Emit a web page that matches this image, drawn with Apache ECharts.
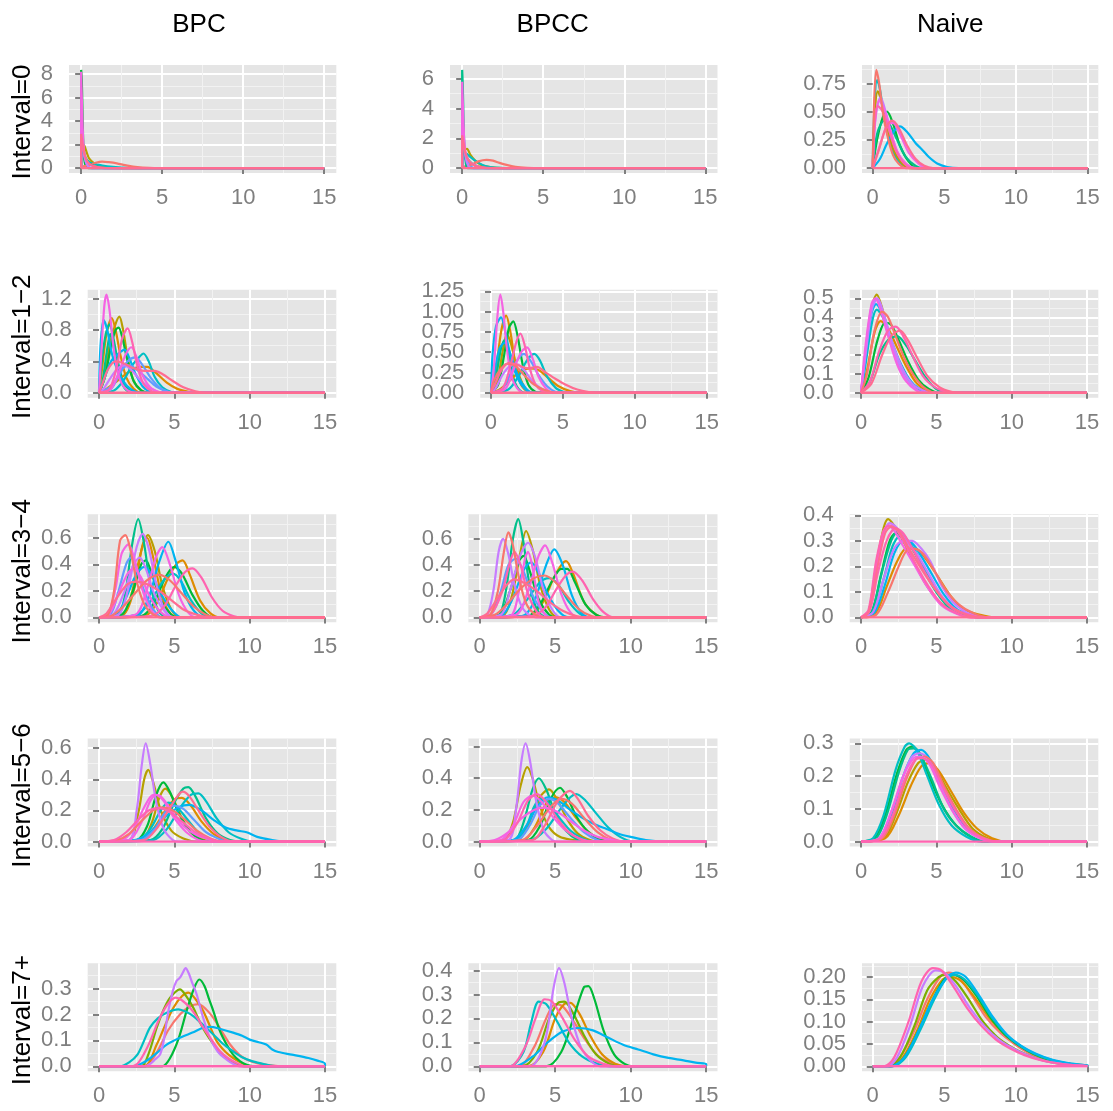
<!DOCTYPE html>
<html>
<head>
<meta charset="utf-8">
<title>Density by interval and method</title>
<script src="https://cdn.jsdelivr.net/npm/echarts@6/dist/echarts.min.js"></script>
<style>
  html, body { margin: 0; padding: 0; background: #ffffff; }
  #chart { width: 1113px; height: 1111px; }
</style>
</head>
<body>
<div id="chart"></div>
<script>
// ---------------------------------------------------------------------------
// Labels
// ---------------------------------------------------------------------------
const METHODS = ['BPC', 'BPCC', 'Naive'];
const INTERVALS = ['Interval=0', 'Interval=1\u22122', 'Interval=3\u22124', 'Interval=5\u22126', 'Interval=7+'];
const X_TICKS = [0, 5, 10, 15];

// y tick values per row (BPC, BPCC, Naive) and decimals used in their labels
const Y_TICKS_I0 = [[0, 2, 4, 6, 8], [0, 2, 4, 6], [0, 0.25, 0.5, 0.75]];
const Y_DIGITS_I0 = [0, 0, 2];
const Y_TICKS_I12 = [[0, 0.4, 0.8, 1.2], [0, 0.25, 0.5, 0.75, 1, 1.25], [0, 0.1, 0.2, 0.3, 0.4, 0.5]];
const Y_DIGITS_I12 = [1, 2, 1];
const Y_TICKS_I34 = [[0, 0.2, 0.4, 0.6], [0, 0.2, 0.4, 0.6], [0, 0.1, 0.2, 0.3, 0.4]];
const Y_DIGITS_I34 = [1, 1, 1];
const Y_TICKS_I56 = [[0, 0.2, 0.4, 0.6], [0, 0.2, 0.4, 0.6], [0, 0.1, 0.2, 0.3]];
const Y_DIGITS_I56 = [1, 1, 1];
const Y_TICKS_I7 = [[0, 0.1, 0.2, 0.3], [0, 0.1, 0.2, 0.3, 0.4], [0, 0.05, 0.1, 0.15, 0.2]];
const Y_DIGITS_I7 = [1, 1, 2];

// ---------------------------------------------------------------------------
// Density curves: each curve is a flat list x0,y0, x1,y1, ...
// The *_GRP arrays give the group (colour) of each curve, in drawing order.
// ---------------------------------------------------------------------------
const BPC_I0 = [
  [0,0, 0,8.35, 0.04,7.5, 0.08,5, 0.15,1.5, 0.25,0.3, 0.4,0.02, 0.6,0, 15,0],
  [0,0, 0,1.2, 0.1,2.0, 0.2,1.9, 0.35,1.3, 0.5,0.8, 0.8,0.4, 1.2,0.15, 1.8,0.03, 2.5,0, 15,0],
  [0,0, 0,0.8, 0.1,1.5, 0.2,1.0, 0.35,0.3, 0.5,0.05, 0.7,0, 15,0],
  [0,0, 0,1.2, 0.1,1.4, 0.25,0.9, 0.5,0.5, 0.8,0.35, 1.2,0.25, 1.8,0.12, 2.5,0.04, 3.5,0, 15,0],
  [0,0, 0,0.1, 0.5,0.25, 0.9,0.45, 1.3,0.55, 1.7,0.5, 2.2,0.4, 2.7,0.25, 3.2,0.12, 3.8,0.04, 4.5,0, 15,0],
  [0,0, 0,2.2, 0.1,1.8, 0.3,0.8, 0.6,0.3, 1,0.1, 1.5,0, 15,0],
  [0,0, 0,4, 0.08,3, 0.2,1, 0.4,0.2, 0.6,0, 15,0],
  [0,0, 0,8.2, 0.06,5, 0.12,2.5, 0.2,1.2, 0.35,0.6, 0.6,0.25, 1,0.08, 1.5,0, 15,0],
  [0,0, 0,2.9, 0.1,2.0, 0.2,1.2, 0.4,0.5, 0.7,0.2, 1.2,0.05, 2,0, 15,0]
];
const BPC_I0_GRP = [4, 2, 8, 6, 0, 5, 9, 10, 12];

const BPCC_I0 = [
  [0,0, 0,1.5, 0.1,1.3, 0.3,0.7, 0.6,0.3, 1,0.1, 1.5,0, 15,0],
  [0,0, 0,0.6, 0.15,1.2, 0.3,1.3, 0.5,0.9, 0.8,0.5, 1.2,0.2, 1.8,0.05, 2.5,0, 15,0],
  [0,0, 0,0.2, 0.15,0.8, 0.3,0.6, 0.5,0.2, 0.7,0, 15,0],
  [0,0, 0,0.9, 0.2,1.0, 0.5,0.75, 0.8,0.5, 1.1,0.3, 1.5,0.12, 2,0.03, 2.8,0, 15,0],
  [0,0, 0,0.05, 0.5,0.2, 1,0.45, 1.5,0.55, 1.9,0.5, 2.3,0.35, 2.8,0.2, 3.3,0.08, 4,0.02, 4.8,0, 15,0],
  [0,0, 0,6.6, 0.04,5.5, 0.08,3.5, 0.14,1.3, 0.22,0.4, 0.35,0, 15,0],
  [0,0, 0,3.5, 0.08,2.5, 0.2,0.8, 0.4,0.1, 0.6,0, 15,0],
  [0,0, 0,5.8, 0.06,3.8, 0.12,2, 0.2,1.1, 0.35,0.6, 0.6,0.3, 1,0.1, 1.5,0, 15,0],
  [0,0, 0,2.2, 0.1,1.6, 0.2,1.0, 0.4,0.5, 0.7,0.2, 1.2,0.05, 2,0, 15,0]
];
const BPCC_I0_GRP = [4, 2, 8, 6, 0, 5, 9, 10, 12];

const NAIVE_I0 = [
  [0,0, 0.1,0.5, 0.3,0.78, 0.5,0.7, 0.8,0.45, 1.2,0.22, 1.7,0.08, 2.2,0.02, 2.7,0, 15,0],
  [0,0, 0.15,0.5, 0.35,0.68, 0.6,0.6, 0.95,0.4, 1.4,0.18, 2,0.05, 2.6,0, 15,0],
  [0,0, 0.3,0.25, 0.7,0.45, 1.0,0.5, 1.4,0.4, 1.9,0.2, 2.5,0.06, 3.1,0, 15,0],
  [0,0, 0.3,0.3, 0.8,0.42, 1.2,0.38, 1.7,0.25, 2.3,0.1, 3,0.02, 3.5,0, 15,0],
  [0,0, 0.5,0.08, 1.0,0.22, 1.5,0.33, 1.9,0.37, 2.4,0.32, 3,0.22, 3.4,0.17, 3.9,0.1, 4.5,0.04, 5.2,0.01, 6,0, 15,0],
  [0,0, 0.2,0.45, 0.55,0.63, 0.9,0.5, 1.3,0.3, 1.8,0.12, 2.4,0.03, 3,0, 15,0],
  [0,0, 0.15,0.4, 0.45,0.6, 0.8,0.52, 1.2,0.35, 1.7,0.15, 2.3,0.04, 2.9,0, 15,0],
  [0,0, 0.5,0.2, 1.0,0.38, 1.4,0.4, 1.9,0.3, 2.5,0.14, 3.2,0.04, 3.8,0, 15,0],
  [0,0, 0.1,0.35, 0.35,0.55, 0.7,0.5, 1.1,0.35, 1.6,0.16, 2.2,0.04, 2.8,0, 15,0],
  [0,0, 0.1,0.6, 0.25,0.87, 0.45,0.75, 0.7,0.5, 1,0.3, 1.4,0.12, 1.8,0.04, 2.3,0, 15,0],
  [0,0, 0.4,0.15, 0.9,0.35, 1.35,0.42, 1.8,0.36, 2.4,0.2, 3,0.08, 3.6,0.02, 4.2,0, 15,0]
];
const NAIVE_I0_GRP = [6, 2, 4, 5, 7, 9, 10, 10, 11, 0, 12];

const BPC_I12 = [
  [0,0, 0.3,0.15, 0.7,0.6, 1.05,0.85, 1.35,0.97, 1.6,0.8, 1.9,0.45, 2.3,0.15, 2.8,0.03, 3.3,0, 15,0],
  [0,0, 0.2,0.3, 0.5,0.75, 0.85,0.95, 1.1,0.8, 1.4,0.5, 1.8,0.2, 2.3,0.05, 2.8,0, 15,0],
  [0,0, 0.4,0.2, 0.8,0.6, 1.1,0.8, 1.3,0.83, 1.55,0.7, 1.9,0.4, 2.3,0.15, 2.8,0.03, 3.3,0, 15,0],
  [0,0, 0.15,0.35, 0.45,0.75, 0.7,0.87, 0.95,0.7, 1.25,0.4, 1.6,0.15, 2,0.04, 2.5,0, 15,0],
  [0,0, 0.2,0.1, 0.5,0.5, 0.75,0.75, 1.0,0.55, 1.3,0.25, 1.7,0.06, 2.2,0, 15,0],
  [0,0, 0.5,0.05, 1.2,0.15, 2,0.27, 2.7,0.33, 3.2,0.33, 3.8,0.25, 4.5,0.13, 5.2,0.05, 6,0.01, 6.6,0, 15,0],
  [0,0, 1,0.03, 1.6,0.15, 2.2,0.35, 2.65,0.45, 2.95,0.5, 3.3,0.4, 3.7,0.2, 4.2,0.07, 4.8,0.01, 5.3,0, 15,0],
  [0,0, 0.3,0.15, 0.8,0.4, 1.3,0.5, 1.7,0.55, 2.0,0.45, 2.4,0.25, 2.9,0.08, 3.4,0.01, 3.8,0, 15,0],
  [0,0, 0.1,0.6, 0.3,0.93, 0.55,0.8, 0.85,0.5, 1.2,0.3, 1.6,0.15, 2.1,0.05, 2.7,0, 15,0],
  [0,0, 0.8,0.05, 1.4,0.25, 1.9,0.4, 2.4,0.45, 2.9,0.35, 3.4,0.2, 4,0.07, 4.6,0.01, 5.2,0, 15,0],
  [0,0, 0.9,0.1, 1.5,0.3, 2,0.35, 2.6,0.28, 3.2,0.18, 3.8,0.08, 4.5,0.02, 5,0, 15,0],
  [0,0, 0.3,0.05, 0.8,0.2, 1.3,0.32, 1.7,0.35, 2.2,0.28, 2.8,0.15, 3.5,0.05, 4.2,0, 15,0],
  [0,0, 0.8,0.05, 1.4,0.3, 1.8,0.5, 2.15,0.58, 2.5,0.45, 2.9,0.22, 3.4,0.07, 4,0.01, 4.5,0, 15,0],
  [0,0, 0.15,0.5, 0.35,1.1, 0.5,1.25, 0.7,1.05, 0.95,0.6, 1.2,0.3, 1.5,0.12, 1.9,0.03, 2.4,0, 15,0],
  [0,0, 0.7,0.05, 1.2,0.35, 1.55,0.7, 1.9,0.82, 2.2,0.65, 2.6,0.3, 3,0.1, 3.5,0.02, 4,0, 15,0],
  [0,0, 0.2,0.1, 0.6,0.3, 1.1,0.4, 1.6,0.38, 2.2,0.32, 3,0.28, 3.7,0.28, 4.2,0.24, 4.9,0.15, 5.6,0.07, 6.4,0.02, 7.2,0, 15,0]
];
const BPC_I12_GRP = [2, 1, 4, 5, 5, 1, 6, 7, 7, 8, 8, 9, 10, 10, 11, 12];

const BPCC_I12 = [
  [0,0, 0.4,0.1, 0.8,0.5, 1.1,0.72, 1.4,0.6, 1.8,0.3, 2.3,0.08, 2.8,0, 15,0],
  [0,0, 0.3,0.2, 0.7,0.75, 1.05,0.95, 1.35,0.75, 1.7,0.35, 2.1,0.1, 2.6,0.01, 3,0, 15,0],
  [0,0, 0.5,0.1, 0.9,0.45, 1.25,0.8, 1.55,0.88, 1.85,0.7, 2.2,0.35, 2.6,0.1, 3.1,0.01, 3.5,0, 15,0],
  [0,0, 0.3,0.15, 0.7,0.55, 0.95,0.65, 1.2,0.5, 1.5,0.22, 1.9,0.05, 2.4,0, 15,0],
  [0,0, 0.6,0.04, 1.3,0.15, 2,0.26, 2.7,0.3, 3.3,0.28, 4,0.18, 4.7,0.08, 5.5,0.02, 6.2,0, 15,0],
  [0,0, 1.2,0.04, 1.9,0.2, 2.5,0.4, 3.0,0.48, 3.4,0.4, 3.9,0.2, 4.5,0.06, 5.1,0.01, 5.6,0, 15,0],
  [0,0, 0.1,0.45, 0.35,0.82, 0.7,0.93, 1.0,0.75, 1.35,0.45, 1.8,0.2, 2.3,0.06, 2.9,0, 15,0],
  [0,0, 0.2,0.2, 0.6,0.55, 1.0,0.62, 1.4,0.45, 1.9,0.2, 2.4,0.06, 2.9,0, 15,0],
  [0,0, 0.8,0.05, 1.4,0.25, 1.9,0.42, 2.3,0.48, 2.8,0.38, 3.3,0.22, 3.9,0.08, 4.5,0.01, 5,0, 15,0],
  [0,0, 0.3,0.05, 0.8,0.22, 1.3,0.33, 1.8,0.35, 2.3,0.28, 2.9,0.14, 3.6,0.04, 4.3,0, 15,0],
  [0,0, 1.0,0.05, 1.6,0.3, 2.1,0.5, 2.5,0.56, 2.9,0.42, 3.3,0.2, 3.8,0.06, 4.4,0, 15,0],
  [0,0, 0.2,0.3, 0.45,0.95, 0.65,1.21, 0.85,1.0, 1.1,0.55, 1.4,0.22, 1.8,0.06, 2.3,0, 15,0],
  [0,0, 0.8,0.05, 1.3,0.3, 1.75,0.62, 2.05,0.73, 2.35,0.58, 2.7,0.3, 3.1,0.1, 3.6,0.02, 4.1,0, 15,0],
  [0,0, 0.2,0.15, 0.7,0.3, 1.2,0.36, 1.7,0.33, 2.3,0.22, 3,0.1, 3.8,0.03, 4.5,0, 15,0],
  [0,0, 0.3,0.12, 0.8,0.3, 1.3,0.37, 1.9,0.34, 2.6,0.3, 3.2,0.32, 3.8,0.25, 4.5,0.17, 5.2,0.1, 6,0.04, 6.8,0.01, 7.5,0, 15,0]
];
const BPCC_I12_GRP = [2, 1, 4, 5, 1, 6, 7, 7, 8, 9, 10, 10, 11, 0, 12];

const NAIVE_I12 = [
  [0,0, 0.3,0.2, 0.7,0.45, 1.05,0.52, 1.4,0.45, 1.9,0.3, 2.5,0.16, 3.1,0.07, 3.8,0.02, 4.5,0, 15,0],
  [0,0, 0.4,0.12, 0.9,0.32, 1.3,0.38, 1.8,0.34, 2.4,0.24, 3,0.14, 3.7,0.05, 4.4,0.01, 5,0, 15,0],
  [0,0, 0.5,0.08, 1.1,0.28, 1.6,0.37, 2.0,0.36, 2.5,0.28, 3.1,0.17, 3.8,0.07, 4.5,0.02, 5.2,0, 15,0],
  [0,0, 0.6,0.06, 1.2,0.2, 1.8,0.28, 2.4,0.3, 3,0.25, 3.6,0.17, 4.3,0.08, 5,0.02, 5.8,0, 15,0],
  [0,0, 0.3,0.15, 0.75,0.38, 1.05,0.44, 1.45,0.4, 2,0.28, 2.6,0.16, 3.3,0.06, 4,0.01, 4.6,0, 15,0],
  [0,0, 0.3,0.18, 0.7,0.42, 1.0,0.47, 1.4,0.42, 1.9,0.3, 2.5,0.17, 3.2,0.07, 3.9,0.02, 4.6,0, 15,0],
  [0,0, 0.3,0.22, 0.7,0.46, 1.0,0.5, 1.4,0.44, 1.9,0.3, 2.5,0.15, 3.1,0.06, 3.8,0.01, 4.4,0, 15,0],
  [0,0, 0.3,0.2, 0.75,0.45, 1.1,0.5, 1.5,0.42, 2.1,0.26, 2.8,0.12, 3.5,0.04, 4.2,0.01, 4.8,0, 15,0],
  [0,0, 0.3,0.25, 0.7,0.47, 0.95,0.5, 1.3,0.44, 1.8,0.3, 2.4,0.15, 3,0.06, 3.7,0.01, 4.3,0, 15,0],
  [0,0, 0.4,0.1, 0.9,0.33, 1.4,0.43, 1.8,0.4, 2.3,0.3, 2.9,0.18, 3.6,0.08, 4.3,0.02, 5,0, 15,0],
  [0,0, 0.6,0.06, 1.2,0.22, 1.8,0.33, 2.3,0.35, 2.8,0.3, 3.4,0.2, 4.1,0.09, 4.9,0.03, 5.7,0.005, 6.3,0, 15,0],
  [0,0, 0.7,0.05, 1.4,0.2, 2,0.3, 2.6,0.33, 3.1,0.28, 3.7,0.19, 4.4,0.09, 5.2,0.03, 6,0.005, 6.8,0, 15,0]
];
const NAIVE_I12_GRP = [2, 1, 4, 5, 6, 7, 9, 9, 10, 0, 11, 12];

const BPC_I34 = [
  [0,0, 1.5,0.01, 2.1,0.15, 2.8,0.5, 3.25,0.62, 3.7,0.5, 4.2,0.24, 4.8,0.06, 5.4,0, 15,0],
  [0,0, 1.6,0.02, 2.3,0.2, 2.9,0.55, 3.2,0.6, 3.6,0.45, 4.2,0.15, 4.8,0.02, 5.3,0, 15,0],
  [0,0, 3,0.01, 3.8,0.1, 4.6,0.3, 5.2,0.41, 5.55,0.43, 6,0.33, 6.7,0.13, 7.4,0.03, 8,0, 15,0],
  [0,0, 2.8,0.01, 3.6,0.1, 4.4,0.3, 5.0,0.38, 5.5,0.33, 6.2,0.17, 6.9,0.05, 7.6,0, 15,0],
  [0,0, 1.5,0.02, 2.2,0.18, 2.8,0.4, 3.1,0.43, 3.5,0.33, 4.1,0.13, 4.8,0.02, 5.3,0, 15,0],
  [0,0, 1.2,0.01, 1.7,0.15, 2.2,0.55, 2.6,0.74, 3.0,0.55, 3.4,0.25, 3.9,0.06, 4.5,0, 15,0],
  [0,0, 2.5,0.02, 3.4,0.12, 4.3,0.28, 4.9,0.33, 5.4,0.28, 6.1,0.13, 6.8,0.03, 7.4,0, 15,0],
  [0,0, 2.5,0.01, 3.3,0.15, 4.0,0.42, 4.6,0.57, 5.1,0.42, 5.7,0.18, 6.3,0.05, 7,0, 15,0],
  [0,0, 1.2,0.03, 1.8,0.15, 2.5,0.33, 3.0,0.38, 3.5,0.32, 4.1,0.18, 4.8,0.06, 5.5,0, 15,0],
  [0,0, 0.8,0.03, 1.3,0.2, 1.8,0.4, 2.1,0.45, 2.5,0.37, 3,0.2, 3.6,0.06, 4.2,0, 15,0],
  [0,0, 1.3,0.02, 1.9,0.2, 2.5,0.53, 2.9,0.63, 3.3,0.52, 3.8,0.25, 4.3,0.07, 4.9,0, 15,0],
  [0,0, 1.0,0.03, 1.7,0.2, 2.3,0.4, 2.7,0.45, 3.1,0.37, 3.7,0.17, 4.4,0.04, 5,0, 15,0],
  [0,0, 0.6,0.02, 1.1,0.22, 1.5,0.48, 1.95,0.55, 2.4,0.42, 2.9,0.2, 3.5,0.05, 4.1,0, 15,0],
  [0,0, 2.4,0.02, 3.2,0.22, 3.8,0.46, 4.2,0.53, 4.7,0.4, 5.3,0.17, 5.9,0.04, 6.5,0, 15,0],
  [0,0, 0.7,0.03, 1.3,0.18, 1.9,0.33, 2.3,0.37, 2.8,0.3, 3.4,0.15, 4.1,0.04, 4.8,0, 15,0],
  [0,0, 3.4,0.01, 4.3,0.08, 5.1,0.24, 5.7,0.34, 6.2,0.37, 6.8,0.3, 7.5,0.15, 8.2,0.05, 8.9,0.01, 9.5,0, 15,0],
  [0,0, 0.6,0.02, 1.0,0.2, 1.4,0.58, 1.75,0.62, 2.1,0.5, 2.5,0.27, 3,0.1, 3.6,0.02, 4.2,0, 15,0],
  [0,0, 0.8,0.01, 1.5,0.07, 2.3,0.17, 3.2,0.28, 4.0,0.32, 4.7,0.28, 5.5,0.18, 6.3,0.08, 7.1,0.02, 7.8,0, 15,0],
  [0,0, 0.5,0.03, 1.2,0.15, 1.9,0.25, 2.5,0.27, 3.2,0.25, 4,0.2, 4.8,0.13, 5.6,0.06, 6.5,0.02, 7.3,0, 15,0]
];
const BPC_I34_GRP = [2, 1, 1, 4, 4, 5, 6, 7, 7, 8, 9, 9, 10, 10, 10, 11, 0, 0, 12];

const BPCC_I34 = [
  [0,0, 1.5,0.01, 2.1,0.15, 2.7,0.5, 3.07,0.66, 3.5,0.52, 4,0.25, 4.6,0.06, 5.2,0, 15,0],
  [0,0, 3.2,0.01, 4.1,0.1, 4.9,0.3, 5.4,0.4, 5.72,0.43, 6.2,0.33, 6.9,0.12, 7.6,0.03, 8.2,0, 15,0],
  [0,0, 3.2,0.01, 4,0.1, 4.8,0.28, 5.4,0.37, 5.8,0.37, 6.3,0.27, 7,0.1, 7.7,0.02, 8.3,0, 15,0],
  [0,0, 1.3,0.02, 2,0.2, 2.6,0.43, 2.9,0.47, 3.3,0.36, 3.9,0.14, 4.6,0.02, 5.1,0, 15,0],
  [0,0, 1.2,0.01, 1.7,0.18, 2.2,0.6, 2.55,0.75, 2.9,0.57, 3.3,0.25, 3.8,0.06, 4.4,0, 15,0],
  [0,0, 2.2,0.02, 3.1,0.13, 4,0.27, 4.6,0.3, 5.2,0.25, 5.9,0.12, 6.6,0.03, 7.2,0, 15,0],
  [0,0, 2.8,0.01, 3.6,0.12, 4.4,0.4, 4.94,0.52, 5.5,0.4, 6.1,0.17, 6.7,0.04, 7.3,0, 15,0],
  [0,0, 1.5,0.02, 2.2,0.15, 2.9,0.36, 3.4,0.42, 3.9,0.34, 4.5,0.18, 5.2,0.05, 5.9,0, 15,0],
  [0,0, 0.8,0.03, 1.4,0.2, 1.9,0.4, 2.4,0.45, 2.9,0.35, 3.5,0.17, 4.2,0.04, 4.8,0, 15,0],
  [0,0, 0.5,0.02, 0.9,0.2, 1.25,0.5, 1.55,0.6, 1.9,0.48, 2.3,0.25, 2.8,0.08, 3.4,0.01, 3.9,0, 15,0],
  [0,0, 1.4,0.02, 2.0,0.2, 2.7,0.48, 3.2,0.57, 3.7,0.45, 4.2,0.22, 4.8,0.06, 5.4,0, 15,0],
  [0,0, 2.4,0.02, 3.2,0.2, 3.9,0.47, 4.33,0.55, 4.8,0.42, 5.4,0.18, 6,0.04, 6.6,0, 15,0],
  [0,0, 2,0.01, 2.6,0.2, 3.0,0.45, 3.2,0.5, 3.5,0.38, 3.9,0.12, 4.4,0.01, 4.8,0, 15,0],
  [0,0, 3.4,0.01, 4.3,0.07, 5.1,0.22, 5.7,0.32, 6.16,0.35, 6.8,0.28, 7.5,0.14, 8.2,0.04, 8.9,0, 15,0],
  [0,0, 0.8,0.03, 1.5,0.2, 2.0,0.42, 2.3,0.5, 2.7,0.4, 3.2,0.18, 3.8,0.04, 4.4,0, 15,0],
  [0,0, 0.7,0.02, 1.2,0.2, 1.6,0.5, 1.9,0.65, 2.2,0.55, 2.6,0.3, 3.1,0.1, 3.7,0.02, 4.3,0, 15,0],
  [0,0, 1,0.02, 1.8,0.1, 2.7,0.22, 3.6,0.3, 4.3,0.32, 5,0.27, 5.8,0.16, 6.6,0.06, 7.4,0.01, 8,0, 15,0],
  [0,0, 0.5,0.03, 1.2,0.15, 1.8,0.25, 2.3,0.29, 3,0.26, 3.8,0.2, 4.6,0.12, 5.5,0.05, 6.4,0.01, 7.2,0, 15,0]
];
const BPCC_I34_GRP = [2, 1, 4, 4, 5, 6, 7, 7, 8, 9, 9, 10, 10, 11, 11, 0, 0, 12];

const NAIVE_I34 = [
  [0,0, 0.5,0.02, 1.0,0.2, 1.5,0.35, 1.8,0.385, 2.2,0.36, 2.8,0.3, 3.5,0.22, 4.3,0.13, 5.2,0.06, 6.2,0.02, 7.2,0.005, 8,0, 15,0],
  [0,0, 1.0,0.02, 1.7,0.12, 2.4,0.22, 3.0,0.27, 3.6,0.27, 4.3,0.23, 5.1,0.16, 6,0.08, 6.9,0.03, 7.9,0.01, 8.8,0, 15,0],
  [0,0, 0.7,0.02, 1.3,0.16, 1.9,0.3, 2.3,0.33, 2.8,0.32, 3.4,0.27, 4.1,0.2, 4.9,0.12, 5.8,0.05, 6.8,0.015, 7.8,0, 15,0],
  [0,0, 0.7,0.02, 1.4,0.18, 2.0,0.3, 2.5,0.34, 3,0.31, 3.6,0.25, 4.3,0.17, 5.1,0.09, 6,0.03, 7,0.01, 7.8,0, 15,0],
  [0,0, 0.8,0.02, 1.5,0.15, 2.1,0.28, 2.6,0.32, 3.1,0.3, 3.7,0.25, 4.4,0.17, 5.2,0.09, 6.1,0.03, 7.1,0.01, 8,0, 15,0],
  [0,0, 0.9,0.02, 1.6,0.13, 2.2,0.25, 2.8,0.3, 3.4,0.29, 4.0,0.24, 4.7,0.17, 5.5,0.09, 6.4,0.03, 7.4,0.01, 8.3,0, 15,0],
  [0,0, 0.5,0.02, 1.0,0.18, 1.5,0.33, 1.9,0.37, 2.4,0.35, 3.0,0.3, 3.8,0.24, 4.6,0.16, 5.4,0.08, 6.3,0.03, 7.3,0.01, 8.2,0, 15,0],
  [0,0, 0.8,0.02, 1.5,0.15, 2.2,0.27, 2.8,0.3, 3.4,0.3, 4.0,0.27, 4.6,0.22, 5.3,0.13, 6.1,0.06, 7,0.02, 8,0, 15,0],
  [0,0, 0.5,0.02, 1.0,0.2, 1.45,0.33, 1.8,0.36, 2.2,0.34, 2.8,0.28, 3.6,0.2, 4.4,0.12, 5.3,0.05, 6.3,0.015, 7.3,0, 15,0],
  [0,0, 1.0,0.01, 1.8,0.1, 2.5,0.2, 3.0,0.26, 3.5,0.27, 4.1,0.25, 4.8,0.19, 5.6,0.11, 6.5,0.05, 7.5,0.015, 8.5,0, 15,0],
  [0,0, 0.5,0.03, 1.0,0.22, 1.5,0.34, 1.9,0.36, 2.4,0.34, 3,0.28, 3.7,0.2, 4.5,0.12, 5.4,0.05, 6.4,0.015, 7.4,0, 15,0],
  [0,0, 0.6,0.03, 1.1,0.17, 1.7,0.3, 2.3,0.35, 2.8,0.33, 3.5,0.26, 4.3,0.17, 5.2,0.09, 6.2,0.03, 7.2,0.01, 8,0, 15,0],
  [0,0, 0.5,0.02, 1.1,0.2, 1.6,0.33, 2.0,0.355, 2.5,0.34, 3.1,0.28, 3.9,0.2, 4.8,0.12, 5.8,0.05, 6.8,0.015, 7.8,0, 15,0]
];
const NAIVE_I34_GRP = [2, 1, 4, 5, 6, 7, 9, 9, 10, 0, 11, 11, 12];

const BPC_I56 = [
  [0,0, 2,0.01, 2.6,0.18, 3.0,0.4, 3.27,0.46, 3.6,0.38, 4.1,0.2, 4.8,0.07, 5.6,0.02, 6.5,0, 15,0],
  [0,0, 2.8,0.01, 3.5,0.12, 4.0,0.28, 4.4,0.34, 4.9,0.28, 5.5,0.15, 6.2,0.05, 7,0.01, 7.6,0, 15,0],
  [0,0, 2.8,0.01, 3.6,0.08, 4.4,0.2, 5.0,0.27, 5.5,0.28, 6.1,0.23, 6.8,0.13, 7.6,0.05, 8.4,0.01, 9,0, 15,0],
  [0,0, 2.5,0.01, 3.2,0.1, 3.8,0.3, 4.27,0.38, 4.7,0.32, 5.3,0.18, 6,0.07, 6.8,0.01, 7.4,0, 15,0],
  [0,0, 3.4,0.01, 4.2,0.08, 5.0,0.25, 5.6,0.34, 5.93,0.35, 6.4,0.29, 7.1,0.15, 7.9,0.05, 8.7,0.01, 9.4,0, 15,0],
  [0,0, 3.6,0.01, 4.5,0.08, 5.4,0.22, 6.1,0.3, 6.6,0.31, 7.1,0.26, 7.8,0.15, 8.6,0.06, 9.4,0.02, 10.2,0, 15,0],
  [0,0, 2.6,0.01, 3.4,0.08, 4.1,0.2, 4.6,0.25, 5.1,0.23, 5.8,0.15, 6.6,0.06, 7.4,0.01, 8,0, 15,0],
  [0,0, 2.4,0.01, 3.4,0.06, 4.4,0.16, 5.3,0.22, 6.0,0.235, 6.8,0.2, 7.6,0.14, 8.4,0.09, 9.2,0.07, 9.8,0.06, 10.5,0.03, 11.5,0.01, 12.5,0, 15,0],
  [0,0, 2.8,0.01, 3.7,0.08, 4.4,0.19, 5,0.23, 5.6,0.21, 6.3,0.14, 7.1,0.06, 7.9,0.02, 8.6,0, 15,0],
  [0,0, 2.0,0.01, 2.5,0.2, 2.85,0.5, 3.1,0.63, 3.4,0.5, 3.8,0.25, 4.3,0.08, 4.9,0.01, 5.3,0, 15,0],
  [0,0, 1.5,0.01, 2.3,0.08, 3.0,0.22, 3.6,0.3, 4.1,0.29, 4.8,0.2, 5.6,0.1, 6.5,0.04, 7.5,0.01, 8.3,0, 15,0],
  [0,0, 2.0,0.01, 2.8,0.12, 3.4,0.26, 3.8,0.3, 4.3,0.26, 5,0.15, 5.8,0.06, 6.6,0.01, 7.2,0, 15,0],
  [0,0, 1.2,0.01, 2,0.05, 2.8,0.13, 3.6,0.2, 4.2,0.22, 4.9,0.2, 5.7,0.14, 6.5,0.07, 7.4,0.02, 8.2,0, 15,0],
  [0,0, 3,0.01, 3.8,0.08, 4.6,0.2, 5.2,0.29, 5.55,0.32, 6,0.29, 6.6,0.2, 7.3,0.1, 8.1,0.03, 9,0, 15,0],
  [0,0, 1.0,0.01, 1.8,0.06, 2.6,0.14, 3.3,0.2, 4.0,0.215, 4.7,0.19, 5.5,0.13, 6.4,0.06, 7.3,0.02, 8.1,0, 15,0]
];
const BPC_I56_GRP = [2, 2, 1, 4, 5, 6, 6, 7, 8, 9, 10, 10, 0, 12, 11];

const BPCC_I56 = [
  [0,0, 1.6,0.01, 2.2,0.12, 2.7,0.35, 3.15,0.47, 3.5,0.4, 4.0,0.22, 4.6,0.09, 5.3,0.03, 6.2,0.01, 7,0, 15,0],
  [0,0, 2.5,0.01, 3.2,0.1, 3.9,0.27, 4.59,0.33, 5.1,0.27, 5.8,0.14, 6.5,0.05, 7.3,0.01, 8,0, 15,0],
  [0,0, 2.9,0.01, 3.7,0.1, 4.4,0.24, 5,0.28, 5.6,0.25, 6.3,0.16, 7.1,0.07, 7.9,0.02, 8.6,0, 15,0],
  [0,0, 3.2,0.01, 4.0,0.1, 4.7,0.27, 5.32,0.34, 5.8,0.28, 6.4,0.16, 7.2,0.06, 8,0.01, 8.7,0, 15,0],
  [0,0, 2.3,0.01, 2.9,0.12, 3.5,0.33, 3.92,0.4, 4.4,0.33, 5,0.18, 5.7,0.07, 6.5,0.01, 7.1,0, 15,0],
  [0,0, 3.4,0.01, 4.4,0.08, 5.3,0.2, 6,0.28, 6.4,0.3, 7,0.26, 7.7,0.18, 8.5,0.09, 9.3,0.03, 10.2,0, 15,0],
  [0,0, 2.4,0.01, 3.1,0.1, 3.6,0.22, 4.0,0.27, 4.5,0.25, 5.2,0.16, 6,0.07, 6.8,0.02, 7.5,0, 15,0],
  [0,0, 2.2,0.01, 3.1,0.1, 3.8,0.22, 4.5,0.28, 5.2,0.26, 6,0.2, 6.8,0.15, 7.6,0.11, 8.4,0.08, 9.2,0.05, 10,0.03, 11,0.01, 12.5,0, 15,0],
  [0,0, 2.5,0.01, 3.3,0.1, 4,0.23, 4.6,0.27, 5.2,0.24, 6,0.15, 6.9,0.06, 7.8,0.01, 8.5,0, 15,0],
  [0,0, 1.9,0.01, 2.4,0.2, 2.75,0.5, 3.04,0.62, 3.35,0.5, 3.75,0.25, 4.25,0.07, 4.8,0.01, 5.2,0, 15,0],
  [0,0, 1.4,0.01, 2.2,0.1, 2.9,0.25, 3.5,0.29, 4.1,0.25, 4.9,0.15, 5.7,0.07, 6.6,0.02, 7.5,0, 15,0],
  [0,0, 2.8,0.01, 3.8,0.1, 4.7,0.22, 5.4,0.27, 6.1,0.24, 6.9,0.15, 7.8,0.06, 8.7,0.01, 9.4,0, 15,0],
  [0,0, 3.5,0.01, 4.3,0.1, 5.2,0.26, 5.98,0.32, 6.5,0.27, 7.2,0.16, 8,0.07, 8.8,0.02, 9.6,0, 15,0],
  [0,0, 1,0.01, 1.9,0.06, 2.8,0.15, 3.6,0.2, 4.3,0.215, 5.1,0.19, 6,0.13, 6.9,0.07, 7.8,0.03, 8.8,0.01, 9.6,0, 15,0],
  [0,0, 1.6,0.01, 2.5,0.12, 3.2,0.26, 3.8,0.3, 4.4,0.25, 5.1,0.15, 5.9,0.06, 6.8,0.01, 7.5,0, 15,0]
];
const BPCC_I56_GRP = [2, 2, 1, 4, 5, 6, 6, 7, 8, 9, 10, 0, 12, 10, 11];

const NAIVE_I56 = [
  [0,0, 1.5,0.01, 2.3,0.08, 3.1,0.18, 3.8,0.24, 4.3,0.25, 4.9,0.23, 5.6,0.17, 6.5,0.1, 7.4,0.04, 8.4,0.01, 9.4,0, 15,0],
  [0,0, 1.6,0.01, 2.5,0.08, 3.3,0.17, 4.0,0.23, 4.5,0.24, 5.1,0.22, 5.9,0.16, 6.8,0.09, 7.7,0.04, 8.7,0.01, 9.7,0, 15,0],
  [0,0, 0.9,0.01, 1.6,0.08, 2.4,0.21, 3.0,0.28, 3.4,0.29, 3.9,0.27, 4.6,0.19, 5.4,0.11, 6.3,0.05, 7.3,0.015, 8.3,0, 15,0],
  [0,0, 1,0.01, 1.7,0.08, 2.5,0.21, 3.1,0.28, 3.5,0.285, 4,0.26, 4.7,0.19, 5.5,0.1, 6.3,0.05, 7.3,0.015, 8.2,0, 15,0],
  [0,0, 0.8,0.01, 1.5,0.08, 2.3,0.22, 2.9,0.29, 3.2,0.3, 3.7,0.28, 4.4,0.2, 5.2,0.11, 6,0.05, 7,0.015, 8,0, 15,0],
  [0,0, 1.2,0.01, 2,0.08, 2.8,0.2, 3.5,0.27, 4,0.28, 4.6,0.25, 5.3,0.18, 6.1,0.1, 7,0.04, 8,0.01, 9,0, 15,0],
  [0,0, 1.2,0.01, 2,0.09, 2.8,0.2, 3.4,0.26, 3.9,0.27, 4.5,0.25, 5.2,0.18, 6,0.1, 6.9,0.04, 7.9,0.01, 8.8,0, 15,0],
  [0,0, 1.4,0.01, 2.2,0.08, 3,0.19, 3.7,0.255, 4.2,0.26, 4.8,0.24, 5.5,0.17, 6.3,0.1, 7.2,0.04, 8.2,0.01, 9.2,0, 15,0],
  [0,0, 1.2,0.01, 2,0.09, 2.8,0.2, 3.5,0.255, 3.9,0.26, 4.5,0.24, 5.2,0.17, 6,0.1, 6.9,0.04, 7.9,0.01, 8.8,0, 15,0],
  [0,0, 1.3,0.01, 2.1,0.08, 2.9,0.19, 3.6,0.25, 4.1,0.255, 4.7,0.235, 5.4,0.17, 6.2,0.1, 7.1,0.04, 8.1,0.01, 9,0, 15,0]
];
const NAIVE_I56_GRP = [2, 1, 4, 5, 6, 7, 9, 0, 10, 11];

const BPC_I7 = [
  [0,0, 3,0, 3.8,0.05, 4.6,0.14, 5.37,0.2, 6.0,0.23, 6.6,0.24, 7.1,0.22, 7.59,0.187, 8.2,0.13, 8.7,0.084, 9.3,0.045, 9.8,0.026, 10.5,0.012, 11.1,0.006, 12,0, 15,0],
  [0,0, 3,0, 3.83,0.084, 4.4,0.16, 4.94,0.226, 5.5,0.27, 5.93,0.284, 6.4,0.26, 6.92,0.213, 7.4,0.15, 7.81,0.097, 8.4,0.055, 8.9,0.032, 9.5,0.012, 10,0, 15,0],
  [0,0, 2.8,0, 3.3,0.05, 3.83,0.149, 4.3,0.22, 4.72,0.265, 5.37,0.297, 5.8,0.27, 6.26,0.226, 6.7,0.17, 7.15,0.123, 7.8,0.07, 8.47,0.032, 9,0.012, 9.6,0, 15,0],
  [0,0, 4.2,0, 4.7,0.03, 5.3,0.11, 5.81,0.213, 6.3,0.3, 6.66,0.335, 7.0,0.31, 7.3,0.26, 7.59,0.213, 8.0,0.14, 8.47,0.084, 8.9,0.045, 9.35,0.02, 9.8,0.006, 10.3,0, 15,0],
  [0,0, 1.4,0, 2.0,0.015, 2.55,0.045, 3.0,0.1, 3.38,0.149, 3.9,0.185, 4.49,0.207, 5.26,0.22, 5.8,0.21, 6.26,0.194, 6.9,0.16, 7.59,0.123, 8.2,0.088, 8.9,0.058, 9.5,0.035, 10.2,0.019, 11,0.008, 11.8,0, 15,0],
  [0,0, 2.2,0, 2.8,0.01, 3.38,0.03, 3.9,0.055, 4.49,0.084, 5,0.1, 5.6,0.116, 6.2,0.13, 6.92,0.149, 7.4,0.152, 8,0.145, 8.9,0.13, 9.5,0.118, 10,0.103, 10.6,0.093, 11.1,0.084, 11.5,0.065, 11.9,0.055, 12.8,0.045, 13.9,0.032, 14.5,0.022, 15,0.01, 15,0],
  [0,0, 3.0,0, 3.4,0.01, 3.7,0.025, 4.05,0.045, 4.3,0.1, 4.6,0.213, 4.9,0.29, 5.15,0.33, 5.37,0.342, 5.55,0.36, 5.75,0.379, 5.95,0.36, 6.2,0.32, 6.48,0.278, 6.9,0.19, 7.36,0.11, 7.9,0.055, 8.47,0.026, 8.9,0.01, 9.35,0, 15,0],
  [0,0, 2.1,0, 2.55,0.01, 3.0,0.05, 3.4,0.097, 3.9,0.17, 4.27,0.213, 4.7,0.25, 5.09,0.265, 5.5,0.255, 6.04,0.226, 6.5,0.19, 6.92,0.149, 7.5,0.1, 8.03,0.058, 8.6,0.03, 9.13,0.013, 9.7,0, 15,0]
];
const BPC_I7_GRP = [0, 1, 3, 4, 6, 7, 9, 11];

const BPCC_I7 = [
  [0,0, 2.6,0, 3.6,0.08, 4.4,0.2, 5.0,0.26, 5.5,0.25, 6.2,0.19, 7,0.11, 7.9,0.04, 8.9,0.01, 9.8,0, 15,0],
  [0,0, 3.2,0, 4.2,0.06, 5,0.2, 5.6,0.26, 6,0.265, 6.6,0.22, 7.3,0.13, 8.1,0.05, 9,0.01, 9.8,0, 15,0],
  [0,0, 2.8,0, 3.8,0.06, 4.6,0.2, 5.2,0.265, 5.6,0.27, 6.2,0.22, 6.9,0.13, 7.7,0.05, 8.6,0.01, 9.4,0, 15,0],
  [0,0, 4.4,0, 5.4,0.06, 6.2,0.2, 6.9,0.33, 7.2,0.335, 7.6,0.28, 8.2,0.15, 8.9,0.05, 9.6,0.01, 10.2,0, 15,0],
  [0,0, 2.0,0, 2.9,0.06, 3.4,0.18, 3.9,0.27, 4.4,0.26, 5.1,0.19, 5.9,0.1, 6.8,0.04, 7.8,0.01, 8.6,0, 15,0],
  [0,0, 2.3,0, 3.5,0.04, 4.5,0.1, 5.5,0.145, 6.5,0.16, 7.5,0.15, 8.5,0.12, 9.5,0.09, 10.5,0.07, 11.5,0.05, 12.5,0.035, 13.5,0.025, 14.3,0.015, 15,0.01, 15,0],
  [0,0, 3.3,0, 4.3,0.1, 4.9,0.33, 5.25,0.41, 5.6,0.35, 6.1,0.2, 6.7,0.08, 7.4,0.02, 8,0, 15,0],
  [0,0, 2.0,0, 3,0.08, 3.7,0.2, 4.3,0.28, 4.8,0.27, 5.5,0.2, 6.3,0.11, 7.2,0.04, 8.2,0.01, 9,0, 15,0]
];
const BPCC_I7_GRP = [0, 1, 3, 4, 6, 7, 9, 11];

const NAIVE_I7 = [
  [0,0, 1.0,0, 1.9,0.02, 2.9,0.08, 3.8,0.15, 4.7,0.2, 5.3,0.21, 6,0.2, 6.9,0.16, 7.9,0.11, 8.9,0.075, 9.9,0.05, 10.9,0.03, 12,0.016, 13.2,0.007, 14.3,0.003, 15,0.001, 15,0],
  [0,0, 1.2,0, 2.1,0.02, 3.1,0.08, 4.0,0.15, 4.9,0.195, 5.5,0.2, 6.2,0.19, 7.1,0.155, 8.1,0.11, 9.1,0.075, 10.1,0.05, 11.1,0.03, 12.2,0.016, 13.4,0.007, 14.5,0.003, 15,0.001, 15,0],
  [0,0, 1.0,0, 1.9,0.02, 2.9,0.09, 3.8,0.17, 4.6,0.2, 5.1,0.205, 5.8,0.19, 6.7,0.15, 7.7,0.1, 8.7,0.065, 9.7,0.043, 10.7,0.027, 11.8,0.014, 13,0.006, 14.2,0.002, 15,0.001, 15,0],
  [0,0, 1.3,0, 2.2,0.02, 3.2,0.08, 4.2,0.15, 5.0,0.195, 5.6,0.205, 6.3,0.195, 7.2,0.16, 8.2,0.11, 9.2,0.072, 10.2,0.047, 11.2,0.028, 12.3,0.015, 13.5,0.006, 14.6,0.002, 15,0.001, 15,0],
  [0,0, 1.4,0, 2.3,0.02, 3.3,0.08, 4.3,0.15, 5.1,0.195, 5.7,0.205, 6.4,0.195, 7.3,0.16, 8.3,0.11, 9.3,0.072, 10.3,0.046, 11.3,0.028, 12.4,0.015, 13.5,0.007, 14.6,0.003, 15,0.002, 15,0],
  [0,0, 1.3,0, 2.2,0.02, 3.2,0.08, 4.2,0.15, 5.2,0.2, 5.8,0.21, 6.5,0.2, 7.4,0.16, 8.4,0.11, 9.4,0.07, 10.4,0.045, 11.4,0.028, 12.5,0.015, 13.7,0.007, 14.6,0.003, 15,0.002, 15,0],
  [0,0, 1,0, 1.7,0.02, 2.6,0.09, 3.5,0.18, 4.4,0.215, 5.0,0.21, 5.8,0.18, 6.8,0.13, 7.8,0.09, 8.8,0.06, 9.8,0.04, 10.8,0.025, 12,0.012, 13.3,0.005, 14.3,0.002, 15,0.001, 15,0],
  [0,0, 0.8,0, 1.5,0.02, 2.5,0.1, 3.4,0.19, 4.2,0.22, 4.8,0.215, 5.6,0.18, 6.6,0.13, 7.6,0.09, 8.6,0.06, 9.6,0.04, 10.6,0.025, 11.8,0.013, 13,0.006, 14.2,0.002, 15,0.001, 15,0]
];
const NAIVE_I7_GRP = [0, 1, 3, 4, 6, 7, 9, 11];

// ---------------------------------------------------------------------------
// Styling and layout
// ---------------------------------------------------------------------------
const FONT = '"Liberation Sans", Arial, Helvetica, sans-serif';
const PALETTE = ['#F8766D', '#DE8C00', '#B79F00', '#7CAE00', '#00BA38', '#00C08B',
                 '#00BFC4', '#00B4F0', '#619CFF', '#C77CFF', '#F564E3', '#FF64B0', '#FF6C91'];
const PANEL_BG = '#E5E5E5';
const AXIS_GREY = '#7F7F7F';
const TICK_FONT = 22;

const PANEL_LEFT = [
  [69, 450, 862],
  [87.7, 480.2, 849.7],
  [87.7, 468.4, 849.7],
  [87.7, 468.4, 849.7],
  [87.7, 468.4, 862]
];
const PANEL_RIGHT = [336.3, 717.5, 1098.3];
const PANEL_TOP = [65, 289.7, 514.3, 738.5, 963.2];
const PANEL_H = 108;
const TITLE_X = [199, 552.7, 950.3];
const TITLE_Y = 24.5;
const ROW_LABEL_X = 23.3;

// ---------------------------------------------------------------------------
// Assemble the 5 x 3 panel table from the arrays above
// ---------------------------------------------------------------------------
const ROW_CURVES = [
  [BPC_I0, BPCC_I0, NAIVE_I0],
  [BPC_I12, BPCC_I12, NAIVE_I12],
  [BPC_I34, BPCC_I34, NAIVE_I34],
  [BPC_I56, BPCC_I56, NAIVE_I56],
  [BPC_I7, BPCC_I7, NAIVE_I7]
];
const ROW_GROUPS = [
  [BPC_I0_GRP, BPCC_I0_GRP, NAIVE_I0_GRP],
  [BPC_I12_GRP, BPCC_I12_GRP, NAIVE_I12_GRP],
  [BPC_I34_GRP, BPCC_I34_GRP, NAIVE_I34_GRP],
  [BPC_I56_GRP, BPCC_I56_GRP, NAIVE_I56_GRP],
  [BPC_I7_GRP, BPCC_I7_GRP, NAIVE_I7_GRP]
];
const ROW_TICKS = [Y_TICKS_I0, Y_TICKS_I12, Y_TICKS_I34, Y_TICKS_I56, Y_TICKS_I7];
const ROW_DIGITS = [Y_DIGITS_I0, Y_DIGITS_I12, Y_DIGITS_I34, Y_DIGITS_I56, Y_DIGITS_I7];

function toPairs(flat) {
  const out = [];
  for (let i = 0; i < flat.length; i += 2) out.push([flat[i], flat[i + 1]]);
  return out;
}

const grids = [], xAxes = [], yAxes = [], series = [], graphics = [];
const X_MIN = 0, X_MAX = 15;
const xPad = (X_MAX - X_MIN) * 0.05;

for (let r = 0; r < 5; r++) {
  for (let c = 0; c < 3; c++) {
    const k = grids.length;
    const curves = ROW_CURVES[r][c].map(toPairs);
    const groups = ROW_GROUPS[r][c];
    const ticks = ROW_TICKS[r][c];
    const digits = ROW_DIGITS[r][c];
    const step = ticks[1] - ticks[0];

    // y range: data range with 5% padding on each side
    let yMax = 0;
    curves.forEach(cv => cv.forEach(p => { if (p[1] > yMax) yMax = p[1]; }));
    const yPad = yMax * 0.05;

    const left = PANEL_LEFT[r][c];
    grids.push({
      left: left, top: PANEL_TOP[r],
      width: PANEL_RIGHT[c] - left, height: PANEL_H,
      show: true, backgroundColor: PANEL_BG, borderWidth: 0,
      containLabel: false
    });

    xAxes.push({
      gridIndex: k, type: 'value',
      min: X_MIN - xPad, max: X_MAX + xPad,
      minInterval: 5, maxInterval: 5,
      offset: 3,
      axisLine: { show: false },
      axisTick: { show: true, length: 6, customValues: X_TICKS,
                  lineStyle: { color: AXIS_GREY, width: 2 } },
      axisLabel: { show: true, customValues: X_TICKS, margin: 11,
                   showMinLabel: true, showMaxLabel: true,
                   color: AXIS_GREY, fontSize: TICK_FONT, fontFamily: FONT,
                   formatter: v => String(v) },
      splitLine: { show: true, lineStyle: { color: '#FFFFFF', width: 2 } },
      minorTick: { show: false, splitNumber: 2 },
      minorSplitLine: { show: true, lineStyle: { color: '#F2F2F2', width: 1 } }
    });

    // The y tick labels are packed tightly, so they are split over two
    // co-located axes (alternate ticks each) to keep every label visible.
    const evenTicks = ticks.filter((_, i) => i % 2 === 0);
    const oddTicks = ticks.filter((_, i) => i % 2 === 1);
    const yBase = {
      gridIndex: k, type: 'value', position: 'left',
      min: -yPad, max: yMax + yPad,
      minInterval: step, maxInterval: step,
      offset: 2,
      axisLine: { show: false }
    };
    const yLabel = vals => ({
      show: true, customValues: vals, margin: 14,
      showMinLabel: true, showMaxLabel: true,
      color: AXIS_GREY, fontSize: TICK_FONT, fontFamily: FONT,
      formatter: v => Number(v).toFixed(digits)
    });
    const yMain = yAxes.length;
    yAxes.push(Object.assign({}, yBase, {
      axisTick: { show: true, length: 6, customValues: ticks,
                  lineStyle: { color: AXIS_GREY, width: 2 } },
      axisLabel: yLabel(evenTicks),
      splitLine: { show: true, lineStyle: { color: '#FFFFFF', width: 2 } },
      minorTick: { show: false, splitNumber: 2 },
      minorSplitLine: { show: true, lineStyle: { color: '#F2F2F2', width: 1 } }
    }));
    yAxes.push(Object.assign({}, yBase, {
      axisTick: { show: false },
      axisLabel: yLabel(oddTicks.length ? oddTicks : evenTicks),
      splitLine: { show: false },
      minorSplitLine: { show: false }
    }));

    curves.forEach((pts, i) => {
      const col = PALETTE[groups[i]];
      series.push({
        type: 'line', xAxisIndex: k, yAxisIndex: yMain,
        data: pts, smooth: 0.3, symbol: 'none', showSymbol: false,
        silent: true, clip: true,
        lineStyle: { color: col, width: 2.2 },
        itemStyle: { color: col },
        z: 2
      });
    });

    // the density outlines close along y = 0; the last group is drawn on top
    const baseCol = PALETTE[groups[groups.length - 1]];
    series.push({
      type: 'line', xAxisIndex: k, yAxisIndex: yMain,
      data: [[X_MIN, 0], [X_MAX, 0]],
      symbol: 'none', showSymbol: false, silent: true,
      lineStyle: { color: baseCol, width: 2.4 },
      itemStyle: { color: baseCol },
      z: 3
    });
  }
}

METHODS.forEach((m, c) => {
  graphics.push({
    type: 'text', x: TITLE_X[c], y: TITLE_Y, silent: true,
    style: { text: m, fill: '#000000', fontSize: 26, fontFamily: FONT,
             align: 'center', verticalAlign: 'middle' }
  });
});
INTERVALS.forEach((t, r) => {
  graphics.push({
    type: 'text', x: ROW_LABEL_X, y: PANEL_TOP[r] + PANEL_H / 2 + 3,
    rotation: Math.PI / 2, silent: true,
    style: { text: t, fill: '#000000', fontSize: 26, fontFamily: FONT,
             align: 'center', verticalAlign: 'middle' }
  });
});

const chart = echarts.init(document.getElementById('chart'), null, { renderer: 'canvas' });
chart.setOption({
  animation: false,
  backgroundColor: '#FFFFFF',
  textStyle: { fontFamily: FONT },
  grid: grids,
  xAxis: xAxes,
  yAxis: yAxes,
  series: series,
  graphic: graphics
});
</script>
</body>
</html>
